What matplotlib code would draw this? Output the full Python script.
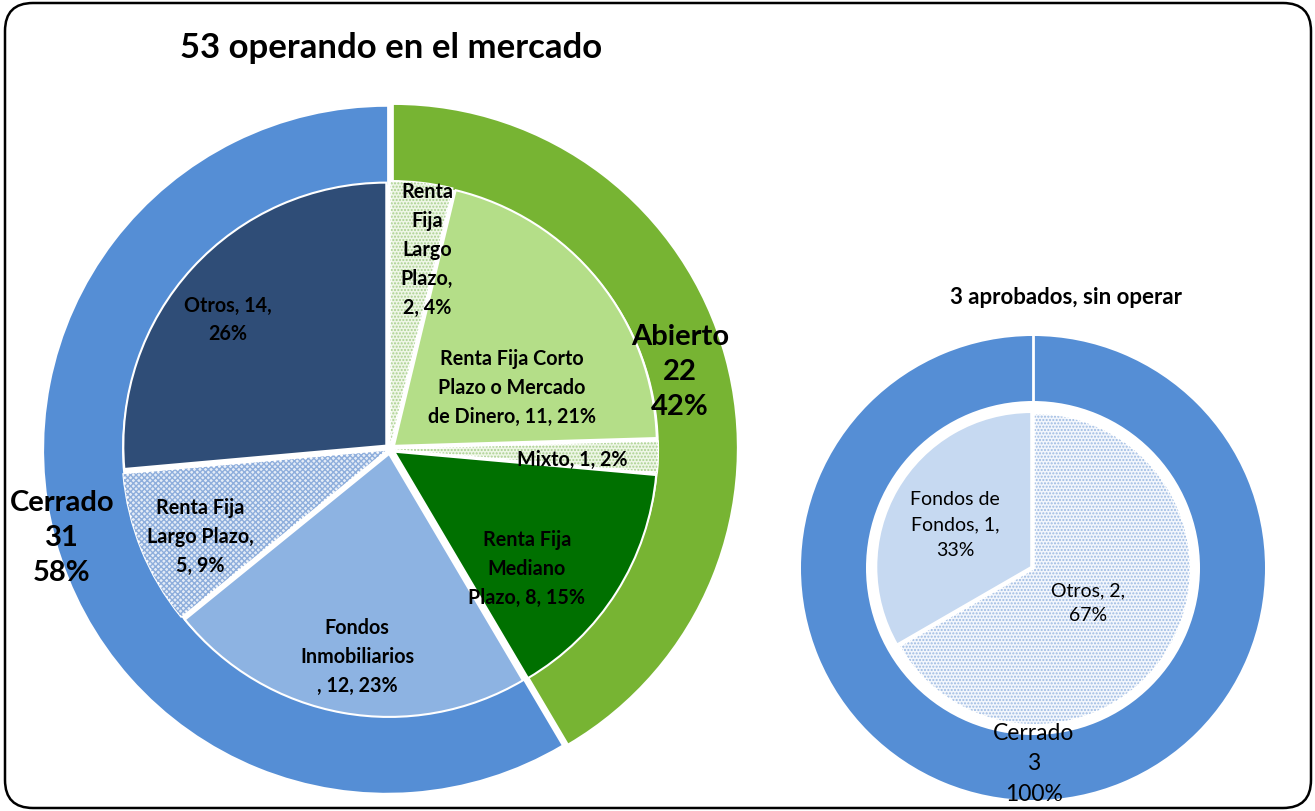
#!/usr/bin/env python3
# Nested pie charts: fondos operando vs aprobados sin operar
import matplotlib
matplotlib.use("Agg")
import matplotlib.pyplot as plt
from matplotlib.patches import Wedge, FancyBboxPatch

plt.rcParams['font.family'] = ['Lato', 'DejaVu Sans']
plt.rcParams['hatch.linewidth'] = 1.0

W, H = 1315, 812

# --- data -------------------------------------------------------------
left_title = "53 operando en el mercado"
left_outer_labels = ["Abierto", "Cerrado"]
left_outer_values = [22, 31]
left_outer_pct = ["42%", "58%"]

left_inner_text = ["Renta\nFija\nLargo\nPlazo,\n2, 4%",
                   "Renta Fija Corto\nPlazo o Mercado\nde Dinero, 11, 21%",
                   "Mixto, 1, 2%",
                   "Renta Fija\nMediano\nPlazo, 8, 15%",
                   "Fondos\nInmobiliarios\n, 12, 23%",
                   "Renta Fija\nLargo Plazo,\n5, 9%",
                   "Otros, 14,\n26%"]
left_inner_values = [2, 11, 1, 8, 12, 5, 14]

right_title = "3 aprobados, sin operar"
right_outer_labels = ["Cerrado"]
right_outer_values = [3]
right_outer_pct = ["100%"]

right_inner_text = ["Otros, 2,\n67%", "Fondos de\nFondos, 1,\n33%"]
right_inner_values = [2, 1]

# --- styles -----------------------------------------------------------
left_outer_colors = ['#77B433', '#558ED5']
left_inner_colors = ['#EEF6E6', '#B4DE88', '#EEF6E6', '#007000', '#8DB3E2', '#E4ECF7', '#2F4D77']
left_inner_hatch = ['.....', None, '.....', None, None, 'xxxxxx', None]
left_inner_hcol = ['#A9D08E', None, '#A9D08E', None, None, '#8EAEDC', None]

right_outer_colors = ['#558ED5']
right_inner_colors = ['#F2F6FC', '#C6D9F1']
right_inner_hatch = ['.....', None]
right_inner_hcol = ['#9DBAE2', None]


def Y(py):
    return H - py


fig = plt.figure(figsize=(W / 100, H / 100), dpi=100)
ax = fig.add_axes([0, 0, 1, 1])


def draw_pie(values, colors, center, radius, width=None, explode=None, hatches=None, hcols=None, lw=2):
    wp = dict(edgecolor='white', linewidth=lw)
    if width is not None:
        wp['width'] = width
    wedges, _ = ax.pie(values, colors=colors, startangle=90, counterclock=False,
                       center=center, radius=radius, explode=explode, frame=True,
                       wedgeprops=wp)
    if hatches:
        for w, h, hc in zip(wedges, hatches, hcols):
            if h is None:
                continue
            ov = Wedge(w.center, w.r, w.theta1, w.theta2, width=w.width,
                       facecolor='none', edgecolor=hc, hatch=h, linewidth=0)
            ax.add_patch(ov)
    return wedges


# left chart
lc = (390, Y(450))
draw_pie(left_outer_values, left_outer_colors, lc, 343, width=78, explode=[4, 3], lw=0)
draw_pie(left_inner_values, left_inner_colors, lc, 263, explode=[5] * 7,
         hatches=left_inner_hatch, hcols=left_inner_hcol, lw=1.5)

# right chart
rc = (1033, Y(569))
r_out, r_w = 232, 65
draw_pie(right_outer_values, right_outer_colors, rc, r_out, width=r_w, lw=0)
ax.plot([rc[0], rc[0]], [rc[1] + r_out - r_w, rc[1] + r_out], color='white', lw=2)
draw_pie(right_inner_values, right_inner_colors, rc, 155, explode=[2, 2],
         hatches=right_inner_hatch, hcols=right_inner_hcol, lw=1.5)

# --- labels -----------------------------------------------------------
ax.text(180, Y(48), left_title, fontsize=25, fontweight='bold', ha='left', va='center')
ax.text(1066, Y(297), right_title, fontsize=16, fontweight='bold', ha='center', va='center')

lo_pos = [(680, 372), (62, 538)]
for lab, v, p, (x, y) in zip(left_outer_labels, left_outer_values, left_outer_pct, lo_pos):
    ax.text(x, Y(y), f"{lab}\n{v}\n{p}", fontsize=21, fontweight='bold',
            ha='center', va='center', linespacing=1.45)

li_pos = [(427, 250), (512, 388), (572, 460), (527, 569), (357, 657), (200, 537), (228, 320)]
for txt, (x, y) in zip(left_inner_text, li_pos):
    ax.text(x, Y(y), txt, fontsize=14.2, fontweight='bold', color='black',
            ha='center', va='center', linespacing=1.55)

ro_pos = [(1034, 764)]
for lab, v, p, (x, y) in zip(right_outer_labels, right_outer_values, right_outer_pct, ro_pos):
    ax.text(x, Y(y), f"{lab}\n{v}\n{p}", fontsize=16.5, ha='center', va='center', linespacing=1.58)

ri_pos = [(1088, 603), (955, 525)]
for txt, (x, y) in zip(right_inner_text, ri_pos):
    ax.text(x, Y(y), txt, fontsize=14, ha='center', va='center', linespacing=1.58)

# rounded frame
frame = FancyBboxPatch((5, Y(809)), 1306, 805, boxstyle="round,pad=0,rounding_size=28",
                       facecolor='none', edgecolor='black', linewidth=1.8)
ax.add_patch(frame)

ax.set_xlim(0, W)
ax.set_ylim(0, H)
ax.set_aspect('auto')
ax.axis('off')

fig.savefig("out.png", dpi=100)
